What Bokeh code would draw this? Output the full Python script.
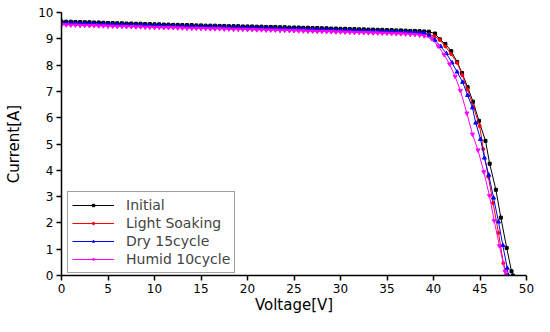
from bokeh.plotting import figure
from bokeh.models import Legend, LegendItem, Range1d, FixedTicker
from bokeh.embed import file_html
from bokeh.resources import INLINE

# ---- data ----
v_flat = [0, 0.5, 1, 1.5, 2, 2.5, 3, 3.5, 4, 4.5,
          5, 5.5, 6, 6.5, 7, 7.5, 8, 8.5, 9, 9.5,
          10, 10.5, 11, 11.5, 12, 12.5, 13, 13.5, 14, 14.5,
          15, 15.5, 16, 16.5, 17, 17.5, 18, 18.5, 19, 19.5,
          20, 20.5, 21, 21.5, 22, 22.5, 23, 23.5, 24, 24.5,
          25, 25.5, 26, 26.5, 27, 27.5, 28, 28.5, 29, 29.5,
          30, 30.5, 31, 31.5, 32, 32.5, 33, 33.5, 34, 34.5,
          35, 35.5, 36, 36.5, 37, 37.5, 38, 38.5, 39, 39.5]

initial_v = v_flat + [40.16, 40.68, 41.28, 41.91, 42.54, 43.07, 43.67, 44.25, 44.89,
                      45.59, 46.04, 46.71, 47.24, 47.87, 48.39, 48.55]
initial_i = [9.66, 9.65, 9.65, 9.64, 9.64, 9.63, 9.63, 9.62, 9.62, 9.61,
             9.60, 9.60, 9.59, 9.59, 9.58, 9.58, 9.57, 9.57, 9.56, 9.56,
             9.55, 9.55, 9.54, 9.54, 9.53, 9.53, 9.52, 9.52, 9.52, 9.51,
             9.51, 9.50, 9.50, 9.50, 9.49, 9.49, 9.48, 9.48, 9.48, 9.47,
             9.47, 9.47, 9.46, 9.46, 9.45, 9.45, 9.45, 9.44, 9.44, 9.43,
             9.43, 9.43, 9.42, 9.42, 9.41, 9.41, 9.40, 9.40, 9.39, 9.39,
             9.38, 9.38, 9.37, 9.37, 9.36, 9.36, 9.35, 9.35, 9.34, 9.34,
             9.33, 9.33, 9.32, 9.32, 9.31, 9.30, 9.30, 9.29, 9.28, 9.27,
             9.20, 8.98, 8.80, 8.53, 8.12, 7.70, 7.16, 6.61, 5.88,
             5.12, 4.25, 3.26, 2.20, 1.05, 0.16, 0.0]

light_v = v_flat + [40.1, 40.68, 41.28, 41.9, 42.54, 43.1, 43.67, 44.3, 44.96,
                    45.35, 45.9, 46.40, 46.99, 47.51, 47.9]
light_i = [9.55, 9.55, 9.54, 9.54, 9.53, 9.53, 9.52, 9.52, 9.51, 9.51,
           9.50, 9.50, 9.49, 9.49, 9.48, 9.48, 9.47, 9.47, 9.46, 9.46,
           9.45, 9.45, 9.44, 9.44, 9.44, 9.43, 9.43, 9.42, 9.42, 9.42,
           9.41, 9.41, 9.40, 9.40, 9.40, 9.39, 9.39, 9.38, 9.38, 9.38,
           9.37, 9.37, 9.36, 9.36, 9.35, 9.35, 9.35, 9.34, 9.34, 9.33,
           9.33, 9.32, 9.32, 9.31, 9.31, 9.30, 9.30, 9.29, 9.29, 9.28,
           9.28, 9.27, 9.27, 9.26, 9.26, 9.25, 9.25, 9.24, 9.24, 9.23,
           9.23, 9.22, 9.22, 9.21, 9.21, 9.20, 9.20, 9.19, 9.18, 9.17,
           9.10, 8.96, 8.71, 8.42, 8.09, 7.62, 7.07, 6.40, 5.68,
           4.81, 3.75, 2.76, 1.62, 0.47, 0.0]

dry_v = v_flat[:-1] + [39.53, 40.15, 40.76, 41.39, 41.99, 42.54, 43.14, 43.67, 44.19,
                       44.54, 45.06, 45.48, 45.94, 46.46, 46.99, 47.45, 47.93, 48.05]
dry_i = [9.60, 9.60, 9.59, 9.59, 9.58, 9.58, 9.57, 9.57, 9.56, 9.56,
         9.55, 9.55, 9.54, 9.54, 9.53, 9.53, 9.52, 9.52, 9.51, 9.51,
         9.50, 9.50, 9.49, 9.49, 9.48, 9.48, 9.47, 9.47, 9.47, 9.46,
         9.46, 9.45, 9.45, 9.45, 9.44, 9.44, 9.43, 9.43, 9.43, 9.42,
         9.42, 9.42, 9.41, 9.41, 9.40, 9.40, 9.40, 9.39, 9.39, 9.38,
         9.38, 9.37, 9.37, 9.36, 9.36, 9.35, 9.35, 9.34, 9.34, 9.33,
         9.33, 9.32, 9.32, 9.31, 9.31, 9.30, 9.30, 9.29, 9.29, 9.28,
         9.28, 9.27, 9.27, 9.26, 9.25, 9.25, 9.24, 9.23, 9.22,
         9.14, 8.95, 8.71, 8.44, 8.09, 7.74, 7.35, 6.85, 6.38,
         5.80, 5.18, 4.47, 3.82, 2.95, 2.04, 1.15, 0.28, 0.0]

humid_v = v_flat[:-1] + [39.81, 40.5, 41.14, 41.73, 42.33, 42.89, 43.59, 44.19, 44.78,
                         45.41, 46.01, 46.53, 47.09, 47.69, 47.8]
humid_i = [9.53, 9.53, 9.52, 9.52, 9.51, 9.51, 9.50, 9.50, 9.49, 9.49,
           9.48, 9.48, 9.47, 9.47, 9.46, 9.46, 9.45, 9.45, 9.44, 9.44,
           9.43, 9.43, 9.42, 9.42, 9.42, 9.41, 9.41, 9.40, 9.40, 9.40,
           9.39, 9.39, 9.38, 9.38, 9.38, 9.37, 9.37, 9.36, 9.36, 9.36,
           9.35, 9.35, 9.34, 9.34, 9.33, 9.33, 9.33, 9.32, 9.32, 9.31,
           9.31, 9.30, 9.30, 9.29, 9.29, 9.28, 9.28, 9.27, 9.27, 9.26,
           9.26, 9.25, 9.25, 9.24, 9.24, 9.23, 9.23, 9.22, 9.22, 9.21,
           9.21, 9.20, 9.19, 9.19, 9.18, 9.17, 9.16, 9.14, 9.11,
           9.00, 8.72, 8.40, 8.04, 7.57, 7.03, 6.17, 5.37, 4.77,
           3.94, 3.04, 2.08, 1.13, 0.16, 0.0]

series_names = ["Initial", "Light Soaking", "Dry 15cycle", "Humid 10cycle"]
x_ticks = [0, 5, 10, 15, 20, 25, 30, 35, 40, 45, 50]
y_ticks = [0, 1, 2, 3, 4, 5, 6, 7, 8, 9, 10]

FONT = "DejaVu Sans"

p = figure(width=534, height=316, output_backend="svg", toolbar_location=None,
           x_range=Range1d(0, 50), y_range=Range1d(0, 10),
           min_border_left=61, min_border_right=8, min_border_top=12, min_border_bottom=38)
p.outline_line_color = None
p.xgrid.visible = False
p.ygrid.visible = False
p.background_fill_color = "white"
p.border_fill_color = "white"

styles = [
    (initial_v, initial_i, "black", "square", 3),
    (light_v, light_i, "red", "circle", 3),
    (dry_v, dry_i, "blue", "triangle", 4),
    (humid_v, humid_i, "magenta", "inverted_triangle", 4),
]

items = []
for (xs, ys, col, mk, sz), name in zip(styles, series_names):
    r1 = p.line(xs, ys, line_color=col, line_width=1)
    r2 = p.scatter(xs, ys, marker=mk, size=sz, fill_color=col, line_color=col)
    items.append(LegendItem(label=name, renderers=[r1, r2]))

for ax in (p.xaxis[0], p.yaxis[0]):
    ax.axis_line_color = "black"
    ax.axis_line_width = 1.5
    ax.major_tick_line_color = "black"
    ax.major_tick_line_width = 1.5
    ax.major_tick_in = 0
    ax.major_tick_out = 5
    ax.minor_tick_line_color = None
    ax.major_label_text_font = FONT
    ax.major_label_text_font_size = "12px"
    ax.major_label_text_color = "black"
    ax.major_label_standoff = 3
    ax.axis_label_text_font = FONT
    ax.axis_label_text_font_size = "15px"
    ax.axis_label_text_font_style = "normal"
    ax.axis_label_text_color = "black"

p.xaxis[0].axis_label_standoff = 0
p.yaxis[0].axis_label_standoff = 12
p.xaxis[0].ticker = FixedTicker(ticks=x_ticks)
p.yaxis[0].ticker = FixedTicker(ticks=y_ticks)
p.xaxis[0].axis_label = "Voltage[V]"
p.yaxis[0].axis_label = "Current[A]"

legend = Legend(items=items, location=(6, 2), margin=0, padding=4, spacing=0,
                label_height=18, glyph_height=6, glyph_width=42, label_standoff=12,
                label_text_font=FONT, label_text_font_size="14px",
                border_line_color="#444444", border_line_width=1,
                background_fill_color="white", background_fill_alpha=1)
p.add_layout(legend)

open("out.html", "w").write(file_html(p, INLINE))
